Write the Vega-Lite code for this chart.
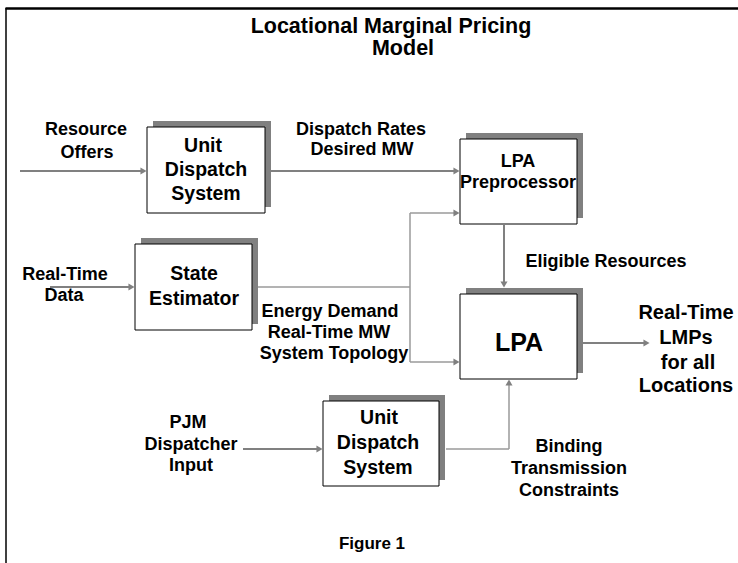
{
  "$schema": "https://vega.github.io/schema/vega-lite/v6.json",
  "width": 738,
  "height": 563,
  "autosize": {"type": "none"},
  "padding": 0,
  "background": "white",
  "config": {
    "view": {"stroke": null},
    "text": {"font": "Liberation Sans", "fontWeight": "bold", "baseline": "middle", "align": "center", "color": "black"}
  },
  "datasets": {
    "frame": [
      {"side": "left", "x": 6, "y": 8, "x2": 6, "y2": 563},
      {"side": "top", "x": 5.5, "y": 8.5, "x2": 738, "y2": 8.5}
    ],
    "boxes": [
      {"box": "Unit Dispatch System (top)", "x": 147, "x2": 265, "y": 127, "y2": 213},
      {"box": "LPA Preprocessor", "x": 460, "x2": 577, "y": 139, "y2": 224},
      {"box": "State Estimator", "x": 135, "x2": 252, "y": 244, "y2": 330},
      {"box": "LPA", "x": 460, "x2": 577, "y": 294, "y2": 379},
      {"box": "Unit Dispatch System (bottom)", "x": 323, "x2": 439, "y": 401, "y2": 486}
    ],
    "arrows": [
      {"x": 20, "y": 171, "x2": 144, "y2": 171},
      {"x": 271, "y": 171, "x2": 457, "y2": 171},
      {"x": 50, "y": 287, "x2": 132, "y2": 287},
      {"x": 504, "y": 224, "x2": 504, "y2": 285},
      {"x": 583, "y": 343, "x2": 647, "y2": 343},
      {"x": 243, "y": 449, "x2": 320, "y2": 449}
    ],
    "wires": [
      {"x": 258, "y": 287, "x2": 410, "y2": 287},
      {"x": 410, "y": 213, "x2": 410, "y2": 362},
      {"x": 410, "y": 213, "x2": 457, "y2": 213},
      {"x": 410, "y": 362, "x2": 457, "y2": 362},
      {"x": 446, "y": 449, "x2": 509, "y2": 449},
      {"x": 509, "y": 449, "x2": 509, "y2": 383}
    ],
    "heads": [
      {"x": 143.5, "y": 171, "dir": "right"},
      {"x": 456.5, "y": 171, "dir": "right"},
      {"x": 131.5, "y": 287, "dir": "right"},
      {"x": 456.5, "y": 213, "dir": "right"},
      {"x": 456.5, "y": 362, "dir": "right"},
      {"x": 504, "y": 284.5, "dir": "down"},
      {"x": 646.5, "y": 343, "dir": "right"},
      {"x": 319.5, "y": 449, "dir": "right"},
      {"x": 509, "y": 382.5, "dir": "up"}
    ],
    "texts": [
      {"g": "title", "t": "Locational Marginal Pricing", "x": 391, "y": 26.5},
      {"g": "title", "t": "Model", "x": 403, "y": 48.5},
      {"g": "box", "t": "Unit", "x": 203, "y": 146},
      {"g": "box", "t": "Dispatch", "x": 206, "y": 170},
      {"g": "box", "t": "System", "x": 206, "y": 194},
      {"g": "label", "t": "LPA", "x": 518, "y": 162},
      {"g": "label", "t": "Preprocessor", "x": 518, "y": 183},
      {"g": "box", "t": "State", "x": 194, "y": 274},
      {"g": "box", "t": "Estimator", "x": 194, "y": 299},
      {"g": "big", "t": "LPA", "x": 519, "y": 343},
      {"g": "box", "t": "Unit", "x": 379, "y": 418},
      {"g": "box", "t": "Dispatch", "x": 378, "y": 443},
      {"g": "box", "t": "System", "x": 378, "y": 468},
      {"g": "label", "t": "Resource", "x": 86, "y": 130},
      {"g": "label", "t": "Offers", "x": 87, "y": 153},
      {"g": "label", "t": "Dispatch Rates", "x": 361, "y": 130},
      {"g": "label", "t": "Desired MW", "x": 362, "y": 150},
      {"g": "label", "t": "Real-Time", "x": 65, "y": 275},
      {"g": "label", "t": "Data", "x": 64, "y": 296},
      {"g": "label", "t": "Eligible Resources", "x": 606, "y": 262},
      {"g": "label", "t": "Energy Demand", "x": 330, "y": 312},
      {"g": "label", "t": "Real-Time MW", "x": 329, "y": 333},
      {"g": "label", "t": "System Topology", "x": 334, "y": 354},
      {"g": "out", "t": "Real-Time", "x": 686, "y": 313},
      {"g": "out", "t": "LMPs", "x": 686, "y": 338},
      {"g": "out", "t": "for all", "x": 688, "y": 363},
      {"g": "out", "t": "Locations", "x": 686, "y": 386},
      {"g": "label", "t": "PJM", "x": 188, "y": 423},
      {"g": "label", "t": "Dispatcher", "x": 191, "y": 445},
      {"g": "label", "t": "Input", "x": 191, "y": 466},
      {"g": "label", "t": "Binding", "x": 569, "y": 447},
      {"g": "label", "t": "Transmission", "x": 569, "y": 469},
      {"g": "label", "t": "Constraints", "x": 569, "y": 491},
      {"g": "fig", "t": "Figure 1", "x": 372, "y": 544}
    ]
  },
  "layer": [
    {
      "data": {"name": "frame"},
      "transform": [{"filter": "datum.side === 'left'"}],
      "mark": {"type": "rule", "color": "black", "strokeWidth": 1.5},
      "encoding": {
        "x": {"field": "x", "type": "quantitative", "scale": {"domain": [0, 738], "nice": false, "zero": false}, "axis": null},
        "y": {"field": "y", "type": "quantitative", "scale": {"domain": [0, 563], "nice": false, "zero": false, "reverse": true}, "axis": null},
        "x2": {"field": "x2"},
        "y2": {"field": "y2"}
      }
    },
    {
      "data": {"name": "frame"},
      "transform": [{"filter": "datum.side === 'top'"}],
      "mark": {"type": "rule", "color": "black", "strokeWidth": 2.5},
      "encoding": {
        "x": {"field": "x", "type": "quantitative"},
        "y": {"field": "y", "type": "quantitative"},
        "x2": {"field": "x2"},
        "y2": {"field": "y2"}
      }
    },
    {
      "data": {"name": "boxes"},
      "mark": {"type": "rect", "fill": "#808080", "xOffset": 6, "x2Offset": 6, "yOffset": -6, "y2Offset": -6},
      "encoding": {
        "x": {"field": "x", "type": "quantitative"},
        "x2": {"field": "x2"},
        "y": {"field": "y", "type": "quantitative"},
        "y2": {"field": "y2"}
      }
    },
    {
      "data": {"name": "boxes"},
      "mark": {"type": "rect", "fill": "white", "stroke": "black", "strokeWidth": 1},
      "encoding": {
        "x": {"field": "x", "type": "quantitative"},
        "x2": {"field": "x2"},
        "y": {"field": "y", "type": "quantitative"},
        "y2": {"field": "y2"}
      }
    },
    {
      "data": {"name": "wires"},
      "mark": {"type": "rule", "color": "#9a9a9a", "strokeWidth": 1.5},
      "encoding": {
        "x": {"field": "x", "type": "quantitative"},
        "x2": {"field": "x2"},
        "y": {"field": "y", "type": "quantitative"},
        "y2": {"field": "y2"}
      }
    },
    {
      "data": {"name": "arrows"},
      "mark": {"type": "rule", "color": "#808080", "strokeWidth": 2},
      "encoding": {
        "x": {"field": "x", "type": "quantitative"},
        "x2": {"field": "x2"},
        "y": {"field": "y", "type": "quantitative"},
        "y2": {"field": "y2"}
      }
    },
    {
      "data": {"name": "heads"},
      "transform": [{"filter": "datum.dir === 'right'"}],
      "mark": {"type": "point", "shape": "triangle-right", "filled": true, "color": "#808080", "size": 50, "opacity": 1},
      "encoding": {
        "x": {"field": "x", "type": "quantitative"},
        "y": {"field": "y", "type": "quantitative"}
      }
    },
    {
      "data": {"name": "heads"},
      "transform": [{"filter": "datum.dir === 'down'"}],
      "mark": {"type": "point", "shape": "triangle-down", "filled": true, "color": "#808080", "size": 50, "opacity": 1},
      "encoding": {
        "x": {"field": "x", "type": "quantitative"},
        "y": {"field": "y", "type": "quantitative"}
      }
    },
    {
      "data": {"name": "heads"},
      "transform": [{"filter": "datum.dir === 'up'"}],
      "mark": {"type": "point", "shape": "triangle-up", "filled": true, "color": "#808080", "size": 50, "opacity": 1},
      "encoding": {
        "x": {"field": "x", "type": "quantitative"},
        "y": {"field": "y", "type": "quantitative"}
      }
    },
    {
      "data": {"name": "texts"},
      "transform": [{"filter": "datum.g === 'title'"}],
      "mark": {"type": "text", "fontSize": 21.5},
      "encoding": {
        "x": {"field": "x", "type": "quantitative"},
        "y": {"field": "y", "type": "quantitative"},
        "text": {"field": "t"}
      }
    },
    {
      "data": {"name": "texts"},
      "transform": [{"filter": "datum.g === 'box'"}],
      "mark": {"type": "text", "fontSize": 19.5},
      "encoding": {
        "x": {"field": "x", "type": "quantitative"},
        "y": {"field": "y", "type": "quantitative"},
        "text": {"field": "t"}
      }
    },
    {
      "data": {"name": "texts"},
      "transform": [{"filter": "datum.g === 'label'"}],
      "mark": {"type": "text", "fontSize": 18},
      "encoding": {
        "x": {"field": "x", "type": "quantitative"},
        "y": {"field": "y", "type": "quantitative"},
        "text": {"field": "t"}
      }
    },
    {
      "data": {"name": "texts"},
      "transform": [{"filter": "datum.g === 'big'"}],
      "mark": {"type": "text", "fontSize": 25},
      "encoding": {
        "x": {"field": "x", "type": "quantitative"},
        "y": {"field": "y", "type": "quantitative"},
        "text": {"field": "t"}
      }
    },
    {
      "data": {"name": "texts"},
      "transform": [{"filter": "datum.g === 'out'"}],
      "mark": {"type": "text", "fontSize": 20},
      "encoding": {
        "x": {"field": "x", "type": "quantitative"},
        "y": {"field": "y", "type": "quantitative"},
        "text": {"field": "t"}
      }
    },
    {
      "data": {"name": "texts"},
      "transform": [{"filter": "datum.g === 'fig'"}],
      "mark": {"type": "text", "fontSize": 17},
      "encoding": {
        "x": {"field": "x", "type": "quantitative"},
        "y": {"field": "y", "type": "quantitative"},
        "text": {"field": "t"}
      }
    }
  ]
}
